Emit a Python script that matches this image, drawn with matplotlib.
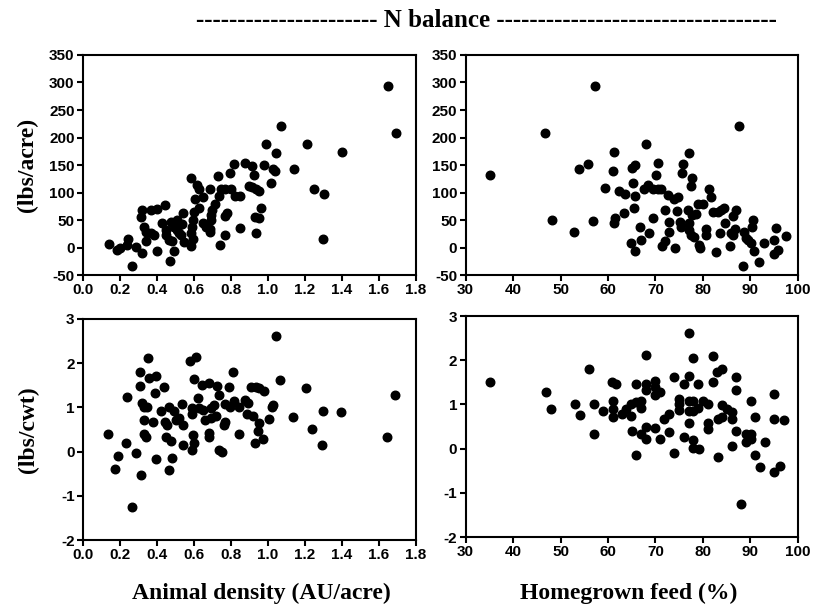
import matplotlib
matplotlib.use("Agg")
from matplotlib import pyplot as plt
import numpy as np

plt.rcParams['axes.unicode_minus'] = False

# N balance (lbs/acre) vs animal density (AU/acre)
dens_a = [1.647, 1.695, 1.072, 0.987, 1.211, 1.045, 1.399, 1.140, 0.819, 0.878,
          0.914, 0.981, 1.027, 1.036, 0.925, 0.797, 0.730, 0.586, 0.616, 0.629,
          0.687, 0.896, 0.914, 0.936, 0.954, 1.017, 0.745, 0.770, 0.801, 1.247,
          1.303, 1.298, 0.734, 0.824, 0.851, 0.607, 0.651, 0.716, 0.629, 0.600,
          0.698, 0.692, 0.770, 0.779, 0.960, 0.929, 0.954, 0.539, 0.446, 0.318,
          0.316, 0.367, 0.398, 0.430, 0.475, 0.506, 0.492, 0.535, 0.596, 0.589,
          0.651, 0.692, 0.665, 0.329, 0.343, 0.367, 0.385, 0.448, 0.448, 0.466,
          0.506, 0.517, 0.528, 0.544, 0.586, 0.593, 0.586, 0.687, 0.687, 0.770,
          0.743, 0.851, 0.936, 0.340, 0.484, 0.242, 0.240, 0.141, 0.186, 0.201,
          0.289, 0.322, 0.401, 0.490, 0.267, 0.472]
nbal_a = [293, 208, 221, 189, 189, 171, 174, 142, 152, 153,
          148, 150, 142, 139, 132, 135, 130, 127, 113, 107,
          107, 112, 110, 107, 103, 118, 107, 106, 107, 106,
          97, 16, 94, 94, 94, 89, 91, 80, 71, 65,
          68, 59, 57, 62, 71, 56, 53, 62, 78, 68,
          55, 68, 70, 44, 47, 50, 38, 43, 50, 38,
          44, 50, 38, 38, 29, 26, 22, 32, 22, 14,
          32, 26, 22, 10, 26, 16, 3, 33, 29, 23,
          4, 35, 26, 11, 11, 15, 4, 7, -4, -1,
          1, -10, -7, -6, -34, -25]

# N balance (lbs/acre) vs homegrown feed (%)
feed_a = [57.2, 46.7, 87.6, 35.1, 48.2, 52.8, 53.8, 55.7, 56.8, 61.3,
          68.1, 61.0, 59.3, 62.4, 63.5, 63.3, 61.4, 61.2, 65.0, 65.8,
          65.3, 65.8, 65.4, 64.9, 65.8, 66.7, 67.0, 68.6, 69.6, 67.5,
          68.4, 69.5, 70.5, 71.2, 70.2, 70.5, 72.1, 71.4, 72.1, 72.9,
          72.8, 72.7, 74.0, 74.7, 74.2, 74.6, 75.2, 75.4, 75.9, 75.6,
          77.1, 77.7, 77.5, 76.8, 77.1, 77.1, 77.7, 78.6, 79.0, 80.0,
          78.1, 77.5, 79.2, 79.5, 81.3, 81.8, 80.7, 80.7, 82.2, 83.2,
          83.9, 84.4, 83.7, 84.6, 82.7, 86.3, 86.9, 85.8, 86.0, 86.7,
          86.3, 88.4, 88.6, 89.1, 89.6, 90.2, 90.5, 90.4, 90.7, 91.9,
          93.0, 95.4, 95.0, 95.0, 95.9, 97.6]
nbal_b = [293, 208, 221, 131, 50, 28, 142, 151, 48, 174,
          189, 139, 109, 103, 98, 62, 53, 45, 144, 150,
          118, 94, 71, 8, -6, 37, 13, 26, 53, 106,
          113, 107, 107, 107, 132, 153, 69, 3, 12, 46,
          28, 95, 89, 92, -1, 67, 47, 37, 151, 135,
          171, 126, 112, 69, 44, 32, 59, 61, 80, 80,
          20, 23, 4, 0, 107, 91, 33, 23, 65, 65,
          68, 71, 26, 44, -8, 57, 69, 3, 27, 33,
          22, -34, 29, 18, 14, 9, 50, 38, -6, -26,
          9, 35, 14, -11, -4, 21]

# N balance (lbs/cwt) vs animal density (AU/acre)
dens_c = [1.041, 0.578, 0.611, 0.354, 0.309, 0.810, 0.358, 0.394, 0.602, 0.309,
          0.390, 0.439, 0.240, 0.643, 0.683, 0.725, 0.734, 0.791, 0.909, 0.936,
          0.954, 0.981, 1.066, 1.207, 1.686, 0.322, 0.331, 0.349, 0.421, 0.466,
          0.493, 0.533, 0.589, 0.620, 0.629, 0.589, 0.647, 0.692, 0.710, 0.770,
          0.795, 0.819, 0.846, 0.878, 0.891, 0.886, 0.921, 0.954, 0.945, 1.008,
          1.021, 1.030, 1.135, 1.298, 1.393, 1.240, 1.292, 1.641, 0.331, 0.380,
          0.445, 0.454, 0.503, 0.520, 0.539, 0.662, 0.692, 0.719, 0.770, 0.761,
          0.683, 0.683, 0.846, 0.929, 0.976, 0.137, 0.331, 0.343, 0.448, 0.475,
          0.539, 0.593, 0.599, 0.590, 0.734, 0.752, 0.235, 0.285, 0.190, 0.174,
          0.394, 0.484, 0.466, 0.316, 0.264]
nbal_c = [2.62, 2.06, 2.14, 2.11, 1.80, 1.81, 1.66, 1.72, 1.64, 1.49,
          1.33, 1.47, 1.24, 1.51, 1.56, 1.49, 1.28, 1.46, 1.47, 1.46,
          1.43, 1.38, 1.62, 1.45, 1.27, 1.09, 1.02, 1.02, 0.92, 1.00,
          0.91, 1.07, 0.98, 1.21, 0.98, 0.85, 0.94, 0.98, 1.06, 1.07,
          1.02, 1.15, 1.02, 1.17, 1.09, 0.85, 0.81, 0.64, 0.47, 0.73,
          1.02, 1.06, 0.78, 0.91, 0.89, 0.51, 0.15, 0.32, 0.72, 0.66,
          0.66, 0.60, 0.72, 0.75, 0.60, 0.72, 0.75, 0.81, 0.68, 0.60,
          0.43, 0.34, 0.39, 0.19, 0.28, 0.39, 0.39, 0.34, 0.32, 0.23,
          0.15, 0.38, 0.20, 0.04, 0.04, 0.00, 0.20, -0.04, -0.10, -0.40,
          -0.17, -0.14, -0.42, -0.53, -1.25]

# N balance (lbs/cwt) vs homegrown feed (%)
feed_d = [35.1, 47.0, 48.0, 53.0, 54.0, 56.0, 57.0, 57.0, 58.9, 60.9,
          61.7, 61.0, 61.0, 61.0, 63.0, 63.8, 64.9, 64.9, 65.1, 65.9,
          67.0, 67.0, 67.0, 65.9, 65.9, 68.1, 68.0, 68.1, 68.1, 68.1,
          70.0, 70.0, 70.0, 71.0, 70.0, 71.0, 71.9, 72.9, 72.9, 74.0,
          74.0, 74.9, 74.9, 74.9, 76.1, 76.1, 77.1, 77.1, 77.1, 77.1,
          77.1, 78.0, 78.0, 78.0, 78.0, 78.0, 78.9, 78.9, 79.2, 80.0,
          81.1, 81.1, 81.1, 82.1, 82.1, 83.0, 84.1, 83.1, 84.1, 84.1,
          83.1, 85.2, 86.1, 86.1, 86.1, 87.0, 87.0, 87.0, 88.1, 89.1,
          89.1, 90.2, 90.2, 90.2, 91.1, 91.1, 92.1, 93.2, 95.1, 95.1,
          95.1, 96.2, 97.1]
nbal_d = [1.50, 1.27, 0.89, 1.01, 0.77, 1.81, 1.01, 0.32, 0.84, 1.50,
          1.46, 1.08, 0.89, 0.71, 0.78, 0.89, 1.01, 0.74, 0.39, 1.05,
          1.08, 0.92, 0.32, 1.47, -0.14, 2.12, 1.46, 1.32, 0.50, 0.22,
          1.53, 1.40, 1.22, 1.29, 0.46, 0.22, 0.67, 0.78, 0.38, 1.62,
          -0.10, 1.12, 1.01, 0.87, 1.46, 0.27, 2.61, 1.65, 1.08, 0.86,
          0.59, 2.06, 1.08, 0.86, 0.20, 0.02, 1.47, 0.93, -0.01, 1.07,
          1.01, 0.59, 0.44, 2.10, 1.51, 1.74, 1.80, 0.67, 0.71, 0.99,
          -0.18, 0.89, 0.82, 0.67, 0.05, 1.61, 1.32, 0.39, -1.25, 0.33,
          0.14, 1.08, 0.33, 0.22, 0.72, -0.14, -0.42, 0.14, 1.23, 0.67,
          -0.53, -0.40, 0.65]

tick_font = {'family': 'Liberation Sans', 'weight': 'bold', 'size': 11}
serif = 'Liberation Serif'

fig = plt.figure(figsize=(8.21, 6.09), dpi=100)
ax_tl = fig.add_axes([0.101, 0.5484, 0.4056, 0.3613])
ax_tr = fig.add_axes([0.5672, 0.5484, 0.4044, 0.3613])
ax_bl = fig.add_axes([0.101, 0.1133, 0.4056, 0.3629])
ax_br = fig.add_axes([0.5672, 0.1182, 0.4044, 0.3629])

ax_tl.scatter(dens_a, nbal_a, s=38, color='black', clip_on=False)
ax_tr.scatter(feed_a, nbal_b, s=38, color='black', clip_on=False)
ax_bl.scatter(dens_c, nbal_c, s=38, color='black', clip_on=False)
ax_br.scatter(feed_d, nbal_d, s=38, color='black', clip_on=False)

for ax in (ax_tl, ax_bl):
    ax.set_xlim(0, 1.8)
    ax.set_xticks(np.arange(0, 1.81, 0.2))
    ax.set_xticklabels(['%.1f' % v for v in np.arange(0, 1.81, 0.2)])
for ax in (ax_tr, ax_br):
    ax.set_xlim(30, 100)
    ax.set_xticks(range(30, 101, 10))
for ax in (ax_tl, ax_tr):
    ax.set_ylim(-50, 350)
    ax.set_yticks(range(-50, 351, 50))
for ax in (ax_bl, ax_br):
    ax.set_ylim(-2, 3)
    ax.set_yticks(range(-2, 4))

for ax in (ax_tl, ax_tr, ax_bl, ax_br):
    for sp in ax.spines.values():
        sp.set_linewidth(1.5)
    ax.tick_params(direction='out', length=4, width=1.5, pad=2)
    for lab in ax.get_xticklabels() + ax.get_yticklabels():
        lab.set_fontproperties(tick_font)

ax_tl.set_ylabel('(lbs/acre)', family=serif, weight='bold', fontsize=17, labelpad=8)
ax_bl.set_ylabel('(lbs/cwt)', family=serif, weight='bold', fontsize=17, labelpad=16)

fig.text(0.318, 0.026, 'Animal density (AU/acre)', ha='center', va='center',
         family=serif, weight='bold', fontsize=17)
fig.text(0.766, 0.026, 'Homegrown feed (%)', ha='center', va='center',
         family=serif, weight='bold', fontsize=17)

fig.text(0.593, 0.967, '-' * 22 + ' N balance ' + '-' * 34, ha='center',
         va='center', family=serif, weight='bold', fontsize=18)

plt.savefig('out.png', dpi=100)
